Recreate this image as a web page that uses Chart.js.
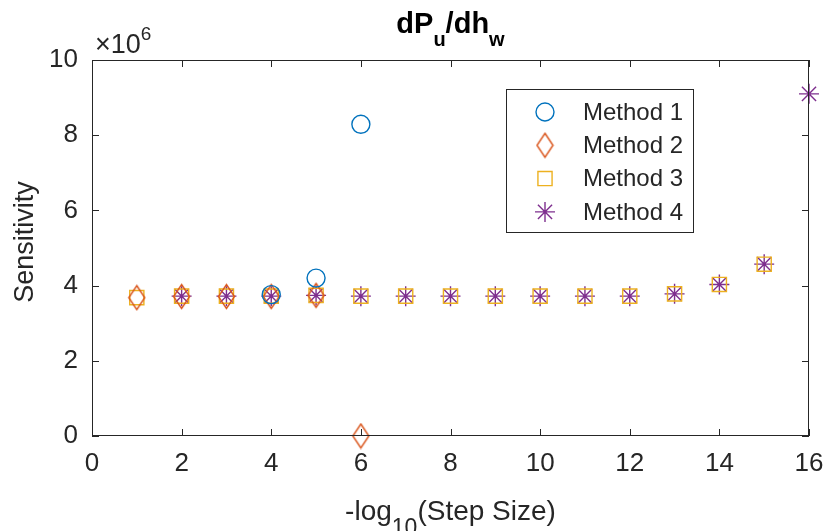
<!DOCTYPE html>
<html>
<head>
<meta charset="utf-8">
<script src="https://cdn.jsdelivr.net/npm/chart.js@4.4.0/dist/chart.umd.min.js"></script>
<style>
  html, body { margin: 0; padding: 0; background: #fff; }
  #wrap { width: 826px; height: 531px; }
</style>
</head>
<body>
<div id="wrap"><canvas id="c" width="826" height="531"></canvas></div>
<script>
// Datos (sensibilidad en unidades absolutas)
const stepExp = [1, 2, 3, 4, 5, 6, 7, 8, 9, 10, 11, 12, 13, 14, 15, 16];
const method1 = [null, null, null, 3.76e6, 4.20e6, 8.29e6, null, null, null, null, null, null, null, null, null, null];
const method2 = [3.68e6, 3.71e6, 3.71e6, 3.71e6, 3.74e6, 0, null, null, null, null, null, null, null, null, null, null];
const method3 = [3.68e6, 3.72e6, 3.72e6, 3.72e6, 3.74e6, 3.72e6, 3.72e6, 3.72e6, 3.72e6, 3.72e6, 3.72e6, 3.72e6, 3.78e6, 4.03e6, 4.57e6, null];
const method4 = [null, 3.72e6, 3.72e6, 3.72e6, 3.74e6, 3.72e6, 3.72e6, 3.72e6, 3.72e6, 3.72e6, 3.72e6, 3.72e6, 3.78e6, 4.03e6, 4.57e6, 9.10e6];
const seriesNames = ['Method 1', 'Method 2', 'Method 3', 'Method 4'];
const xTicks = [0, 2, 4, 6, 8, 10, 12, 14, 16];
const yTicks = [0, 2e6, 4e6, 6e6, 8e6, 10e6];

const FONT = "'Liberation Sans', Arial, sans-serif";
const AXIS = '#262626';

function toPoints(values) {
  return stepExp.map((x, i) => ({ x: x, y: values[i] })).filter(p => p.y !== null);
}

// Rombo alto como en MATLAB
function makeDiamond(color) {
  const cv = document.createElement('canvas');
  cv.width = 19; cv.height = 27;
  const g = cv.getContext('2d');
  g.strokeStyle = color;
  g.lineWidth = 1.4;
  g.beginPath();
  g.moveTo(9.5, 1.5); g.lineTo(17.5, 13.5); g.lineTo(9.5, 25.5); g.lineTo(1.5, 13.5);
  g.closePath();
  g.stroke();
  return cv;
}

const styles = [
  { color: '#0072BD', pointStyle: 'circle', radius: 9 },
  { color: '#D95319', pointStyle: makeDiamond('#D95319'), radius: 9 },
  { color: '#EDB120', pointStyle: 'rect', radius: 10 },
  { color: '#7E2F8E', pointStyle: 'star', radius: 10 }
];

const datasets = [method1, method2, method3, method4].map((vals, i) => ({
  label: seriesNames[i],
  data: toPoints(vals),
  showLine: false,
  clip: false,
  pointStyle: styles[i].pointStyle,
  pointRadius: styles[i].radius,
  pointHoverRadius: styles[i].radius,
  pointBorderColor: styles[i].color,
  pointBackgroundColor: 'rgba(0,0,0,0)',
  pointBorderWidth: 1.4
}));

function drawRuns(ctx, runs, cx, baseY) {
  let w = 0;
  runs.forEach(r => { ctx.font = r[1]; w += ctx.measureText(r[0]).width; });
  let x = cx - w / 2;
  runs.forEach(r => {
    ctx.font = r[1];
    ctx.fillText(r[0], x, baseY + r[2]);
    x += ctx.measureText(r[0]).width;
  });
}

// Marco, marcas interiores, textos y leyenda al estilo MATLAB
const decorPlugin = {
  id: 'decor',
  afterDraw(chart) {
    const ctx = chart.ctx;
    const a = chart.chartArea;
    const xs = chart.scales.x, ys = chart.scales.y;
    ctx.save();
    ctx.strokeStyle = AXIS;
    ctx.lineWidth = 1;
    ctx.strokeRect(a.left + 0.5, a.top + 0.5, a.right - a.left - 1, a.bottom - a.top - 1);
    const tl = 7;
    ctx.beginPath();
    xTicks.forEach(v => {
      const px = Math.round(xs.getPixelForValue(v)) + 0.5;
      ctx.moveTo(px, a.bottom); ctx.lineTo(px, a.bottom - tl);
      ctx.moveTo(px, a.top); ctx.lineTo(px, a.top + tl);
    });
    yTicks.forEach(v => {
      const py = Math.round(ys.getPixelForValue(v)) + 0.5;
      ctx.moveTo(a.left, py); ctx.lineTo(a.left + tl, py);
      ctx.moveTo(a.right, py); ctx.lineTo(a.right - tl, py);
    });
    ctx.stroke();

    const cx = (a.left + a.right) / 2;
    ctx.textAlign = 'left';
    ctx.textBaseline = 'alphabetic';

    // Título con subíndices
    ctx.fillStyle = '#000';
    const tb = 'bold 29px ' + FONT, ts = 'bold 20px ' + FONT;
    drawRuns(ctx, [['dP', tb, 0], ['u', ts, 13], ['/dh', tb, 0], ['w', ts, 13]], cx, 33);

    // Etiqueta eje X
    ctx.fillStyle = AXIS;
    drawRuns(ctx, [['-log', '28px ' + FONT, 0], ['10', '23px ' + FONT, 15], ['(Step Size)', '28px ' + FONT, 0]], cx, 520);

    // Etiqueta eje Y
    ctx.save();
    ctx.translate(33, 242);
    ctx.rotate(-Math.PI / 2);
    ctx.font = '27px ' + FONT;
    ctx.textAlign = 'center';
    ctx.fillText('Sensitivity', 0, 0);
    ctx.restore();

    // Multiplicador ×10^6
    ctx.font = '27px ' + FONT;
    ctx.fillText('\u00d710', 95, 53);
    const mw = ctx.measureText('\u00d710').width;
    ctx.font = '19px ' + FONT;
    ctx.fillText('6', 95 + mw, 40);

    // Leyenda
    const lx = 506, ly = 89, lw = 187, lh = 143;
    ctx.fillStyle = '#fff';
    ctx.fillRect(lx, ly, lw, lh);
    ctx.strokeStyle = AXIS;
    ctx.lineWidth = 1;
    ctx.strokeRect(lx + 0.5, ly + 0.5, lw, lh);
    ctx.font = '24px ' + FONT;
    ctx.textBaseline = 'middle';
    datasets.forEach((d, i) => {
      const yy = ly + 23 + i * 33.3;
      ctx.fillStyle = 'rgba(0,0,0,0)';
      ctx.strokeStyle = d.pointBorderColor;
      ctx.lineWidth = d.pointBorderWidth;
      Chart.helpers.drawPoint(ctx, {
        pointStyle: d.pointStyle,
        radius: d.pointRadius,
        borderWidth: d.pointBorderWidth,
        rotation: 0
      }, 545, yy);
      ctx.fillStyle = AXIS;
      ctx.fillText(d.label, 583, yy + 1);
    });
    ctx.restore();
  }
};

new Chart(document.getElementById('c'), {
  type: 'scatter',
  data: { datasets: datasets },
  plugins: [decorPlugin],
  options: {
    responsive: false,
    animation: false,
    layout: { padding: { top: 60, right: 17, left: 0, bottom: 0 } },
    plugins: {
      legend: { display: false },
      tooltip: { enabled: false }
    },
    scales: {
      x: {
        type: 'linear',
        min: 0,
        max: 16,
        afterBuildTicks(scale) { scale.ticks = xTicks.map(v => ({ value: v })); },
        afterFit(scale) { scale.height = 95; scale.paddingLeft = 0; scale.paddingRight = 0; },
        grid: { display: false, drawTicks: false },
        border: { display: false },
        ticks: {
          color: AXIS,
          padding: 12,
          maxRotation: 0,
          font: { family: FONT, size: 26 }
        }
      },
      y: {
        type: 'linear',
        min: 0,
        max: 10e6,
        afterBuildTicks(scale) { scale.ticks = yTicks.map(v => ({ value: v })); },
        afterFit(scale) { scale.width = 92; scale.paddingTop = 0; scale.paddingBottom = 0; },
        grid: { display: false, drawTicks: false },
        border: { display: false },
        ticks: {
          color: AXIS,
          padding: 14,
          font: { family: FONT, size: 26 },
          callback: v => String(v / 1e6)
        }
      }
    }
  }
});
</script>
</body>
</html>
